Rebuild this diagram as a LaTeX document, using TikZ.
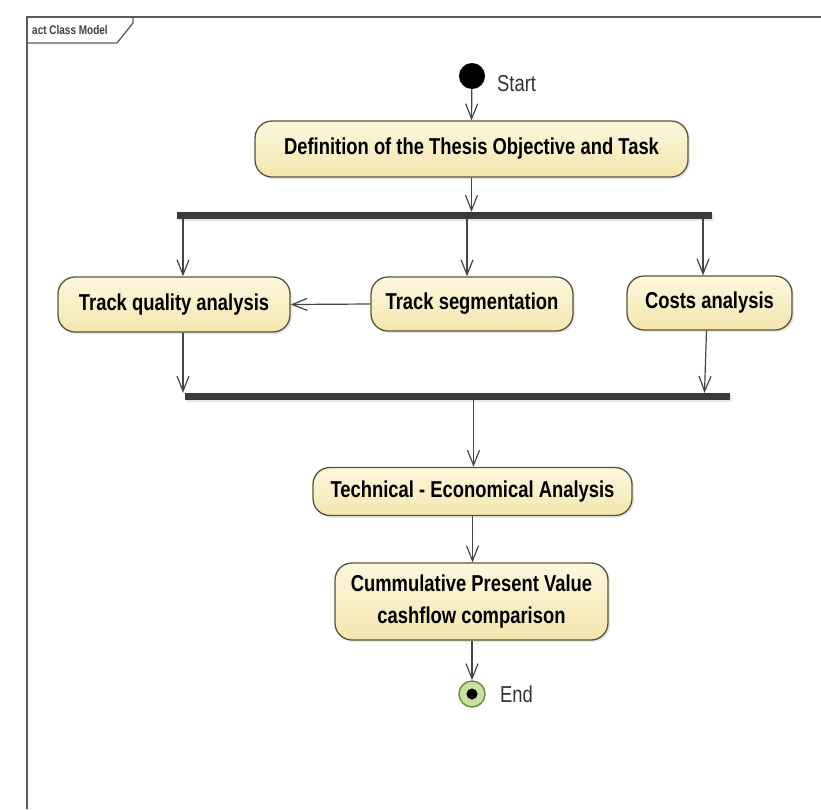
\documentclass[tikz,border=0pt]{standalone}
\usepackage{fontspec}
\setmainfont{Liberation Sans}[FakeStretch=0.8]
\usetikzlibrary{arrows.meta,shadows}
\definecolor{boxfillT}{HTML}{FDF8DE}
\definecolor{boxfillB}{HTML}{F3E6AE}
\definecolor{boxline}{HTML}{5A5436}
\definecolor{linec}{HTML}{454545}
\definecolor{barc}{HTML}{3A3A3A}
\definecolor{framec}{HTML}{5A5A5A}
\definecolor{endfill}{HTML}{C6E3A2}
\definecolor{endline}{HTML}{6E8F45}
\tikzset{
  actbox/.style={draw=boxline, line width=1.3pt, rounded corners=17pt,
    top color=boxfillT, bottom color=boxfillB, align=center,
    font=\fontsize{23}{27}\selectfont\bfseries, inner sep=0pt,
    drop shadow={opacity=0.2, shadow xshift=2pt, shadow yshift=-2pt}},
  barbox/.style={fill=barc, inner sep=0pt, minimum height=7pt,
    drop shadow={opacity=0.2, shadow xshift=1.5pt, shadow yshift=-1.5pt}},
  arr/.style={draw=linec, line width=1.2pt, -{Straight Barb[length=15pt,width=12pt,line width=1.2pt]}},
  lbl/.style={font=\fontsize{23}{27}\selectfont, text=black!80, inner sep=0pt, anchor=west},
}
\begin{document}
\begin{tikzpicture}[x=1pt,y=-1pt]
\useasboundingbox (0,0) rectangle (821,809);
% frame
\draw[framec, line width=2pt] (821,17) -- (27,17) -- (27,809);
\draw[framec, line width=1.3pt] (27,43) -- (117,43) -- (133,23) -- (133,17);
\node[font=\fontsize{12.5}{14}\selectfont\bfseries, text=black!75, anchor=west, inner sep=0pt] (title) at (32,30) {act Class Model};
% start
\node[circle, fill=black, minimum size=26pt, inner sep=0pt] (start) at (472,76) {};
\node[lbl] (startlbl) at (497,84) {Start};
% boxes
\node[actbox, minimum width=433pt, minimum height=56pt] (def) at (471.5,149) {Definition of the Thesis Objective and Task};
\node[barbox, minimum width=535pt] (fork) at (444.5,215.5) {};
\node[actbox, minimum width=232pt, minimum height=55pt] (tq) at (174,304.5) {Track quality analysis};
\node[actbox, minimum width=202pt, minimum height=54pt] (ts) at (472,304) {Track segmentation};
\node[actbox, minimum width=165pt, minimum height=54pt] (ca) at (709.5,303) {Costs analysis};
\node[barbox, minimum width=545pt] (join) at (457.5,396.5) {};
\node[actbox, minimum width=319pt, minimum height=48pt] (tea) at (472.5,491.5) {Technical - Economical Analysis};
\node[actbox, minimum width=273pt, minimum height=77pt, font=\fontsize{23}{32}\selectfont\bfseries] (cpv) at (471.5,601.5) {Cummulative Present Value\\cashflow comparison};
% end
\node[circle, fill=endfill, draw=endline, line width=1.5pt, minimum size=26pt, inner sep=0pt] (endn) at (472,694) {};
\node[circle, fill=black, minimum size=11pt, inner sep=0pt] (enddot) at (endn.center) {};
\node[lbl] (endlbl) at (500,694) {End};
% connectors
\draw[arr] (start) -- (def.north);
\draw[arr] (def.south) -- (def.south |- fork.north);
\draw[arr] ([xshift=9pt]tq.north |- fork.south) -- ([xshift=9pt]tq.north);
\draw[arr] ([xshift=-5pt]ts.north |- fork.south) -- ([xshift=-5pt]ts.north);
\draw[arr] ([xshift=-6.5pt]ca.north |- fork.south) -- ([xshift=-6.5pt]ca.north);
\draw[arr] (ts.west) -- (tq.east);
\draw[arr] ([xshift=9pt]tq.south) -- ([xshift=9pt]tq.south |- join.north);
\draw[arr] ([xshift=-3pt]ca.south) -- ([xshift=-5pt]ca.south |- join.north);
\draw[arr] ([xshift=1pt]tea.north |- join.south) -- ([xshift=1pt]tea.north);
\draw[arr] (tea.south) -- (tea.south |- cpv.north);
\draw[arr] (endn.north |- cpv.south) -- (endn.north);
\end{tikzpicture}
\end{document}
